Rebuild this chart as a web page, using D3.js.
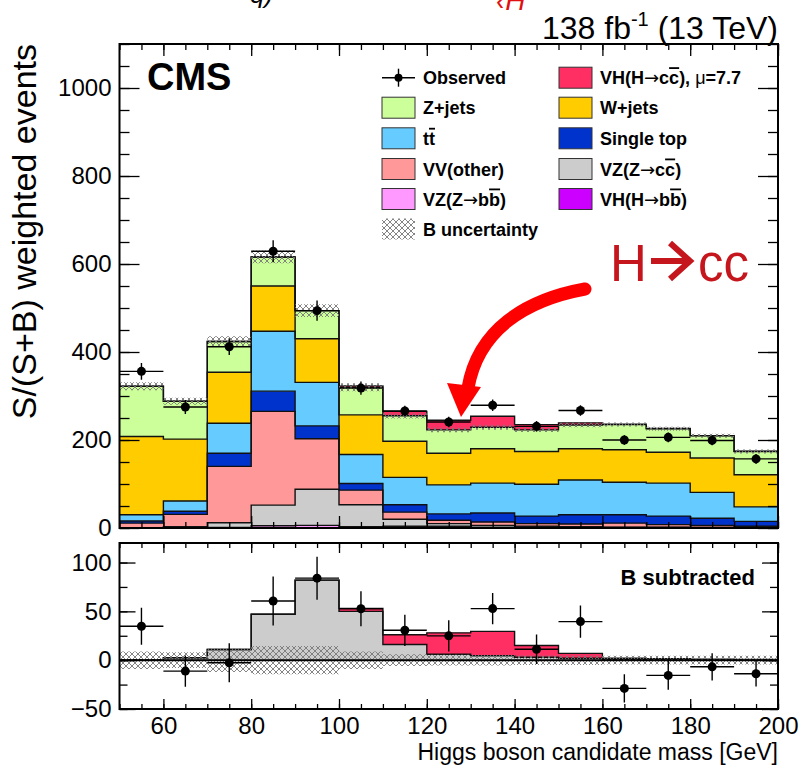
<!DOCTYPE html>
<html>
<head>
<meta charset="utf-8">
<script src="https://cdn.jsdelivr.net/npm/d3@7"></script>
<style>
  body { margin: 0; background: #fff; }
  text { font-family: "Liberation Sans", Arial, Helvetica, sans-serif; }
</style>
</head>
<body>
<div id="chart"></div>
<script>
// Bin low edges (GeV), 10 GeV wide
const binLo = [50, 60, 70, 80, 90, 100, 110, 120, 130, 140, 150, 160, 170, 180, 190];
const binW = 10;

// Main panel, S/(S+B) weighted events per process
const vhBB      = [0, 0, 0, 0.5, 0.5, 0.5, 1, 3, 1, 0.5, 0.5, 0.5, 0.5, 0.5, 0.3];
const vzBB      = [0, 0.5, 1, 4.5, 5.5, 2.5, 3, 1, 0.5, 0.5, 0.5, 0.5, 0.5, 0.5, 0.2];
const vzCC      = [0.5, 2.5, 11, 47, 82, 50, 16, 6, 4.5, 3, 2, 1, 1, 0.5, 0.5];
const vvOther   = [10.5, 28, 128, 213, 115, 33, 16, 7.5, 7.7, 6, 6, 9, 5.6, 4.5, 3];
const singleTop = [5, 7, 30, 46, 29, 15, 17, 14.5, 20.3, 17, 21, 19, 19.4, 16, 11];
const ttbar     = [14, 23.5, 68, 136, 99, 66, 62, 66, 68, 72.5, 79, 74, 75, 59, 33];
const wJets     = [178, 140.5, 116, 103, 99, 90, 82, 72, 78, 74.5, 71, 74, 70, 78, 73];
const zJets     = [114, 86, 70, 66, 64, 63, 58, 53, 49, 49, 54, 57, 53.5, 50.5, 53];
const vhCC      = [0, 0, 0, 0, 0, 3, 10, 22, 25, 12, 5, 1, 0.5, 0.5, 0.3];
const bUnc      = [9, 8, 12, 14.5, 14.5, 9, 6, 5.5, 5.5, 5, 5, 4.5, 4.5, 4.5, 4.5];

const obs    = [356, 275, 412, 629, 494, 318, 266, 241, 279, 231, 267, 200, 206, 199, 157];
const obsErr = [19, 16, 19, 25, 23, 15, 12, 12, 13, 12, 12, 11, 11, 11, 11];

// Lower panel, background subtracted
const subObs    = [34.7, -11.2, -2.7, 60.6, 84, 52.7, 30.6, 24.9, 52.8, 11.2, 39.5, -28.9, -15.6, -6.8, -13.9];
const subObsErr = [19, 16, 20, 25, 22, 18, 16, 16, 16, 15, 16.5, 14.5, 14.7, 14, 13];

// Axis ticks
const mainYTicks  = [0, 200, 400, 600, 800, 1000];
const lowerYTicks = [-50, 0, 50, 100];
const xTicks      = [60, 80, 100, 120, 140, 160, 180, 200];

const processes = [
  {key: "vhBB",      vals: vhBB,      color: "#cc00ff"},
  {key: "vzBB",      vals: vzBB,      color: "#ff99ff"},
  {key: "vzCC",      vals: vzCC,      color: "#cccccc"},
  {key: "vvOther",   vals: vvOther,   color: "#ff9999"},
  {key: "singleTop", vals: singleTop, color: "#0033cc"},
  {key: "ttbar",     vals: ttbar,     color: "#66ccff"},
  {key: "wJets",     vals: wJets,     color: "#ffcc00"},
  {key: "zJets",     vals: zJets,     color: "#ccff99"},
  {key: "vhCC",      vals: vhCC,      color: "#ff2e63"}
];

const W = 802, H = 771;
const svg = d3.select("#chart").append("svg")
  .attr("width", W).attr("height", H);

const defs = svg.append("defs");
const pat = defs.append("pattern")
  .attr("id", "hatch")
  .attr("patternUnits", "userSpaceOnUse")
  .attr("width", 6).attr("height", 6);
pat.append("path").attr("d", "M0,0L6,6M6,0L0,6M-1,5L1,7M5,-1L7,1")
  .attr("stroke", "#777").attr("stroke-width", 0.9);

const x = d3.scaleLinear().domain([50, 200]).range([119.5, 778]);
const yMain = d3.scaleLinear().domain([0, 1100]).range([528, 44]);
const yLow = d3.scaleLinear().domain([-50, 120]).range([709, 543]);

// step points helper: one point per bin edge
function steps(lo, hi) {
  const pts = binLo.map((b, i) => ({x: b, y0: lo[i], y1: hi[i]}));
  const n = binLo.length - 1;
  pts.push({x: binLo[n] + binW, y0: lo[n], y1: hi[n]});
  return pts;
}

// ---------- main panel ----------
const main = svg.append("g");
main.append("clipPath").attr("id", "clipMain")
  .append("rect").attr("x", 119.5).attr("y", 44).attr("width", 658.5).attr("height", 484);
const mg = main.append("g").attr("clip-path", "url(#clipMain)");

const rows = binLo.map((b, i) => {
  const r = {};
  processes.forEach(p => r[p.key] = p.vals[i]);
  return r;
});
const stack = d3.stack().keys(processes.map(p => p.key))(rows);

const area = y => d3.area().curve(d3.curveStepAfter)
  .x(d => x(d.x)).y0(d => y(d.y0)).y1(d => y(d.y1));
const line = y => d3.line().curve(d3.curveStepAfter)
  .x(d => x(d.x)).y(d => y(d.y1));

stack.forEach((layer, k) => {
  const pts = steps(layer.map(d => d[0]), layer.map(d => d[1]));
  mg.append("path").datum(pts)
    .attr("fill", processes[k].color)
    .attr("d", area(yMain));
});
stack.forEach((layer, k) => {
  const pts = steps(layer.map(d => d[0]), layer.map(d => d[1]));
  mg.append("path").datum(pts)
    .attr("fill", "none").attr("stroke", "#111").attr("stroke-width", 1.4)
    .attr("d", line(yMain));
});

// B uncertainty hatch around background total
const bTot = stack[7].map(d => d[1]);
mg.append("path")
  .datum(steps(bTot.map((v, i) => v - bUnc[i]), bTot.map((v, i) => v + bUnc[i])))
  .attr("fill", "url(#hatch)")
  .attr("d", area(yMain));

// observed points
function drawPoints(g, y, vals, errs) {
  const pg = g.append("g");
  vals.forEach((v, i) => {
    const cx = x(binLo[i] + binW / 2);
    pg.append("line").attr("x1", x(binLo[i])).attr("x2", x(binLo[i] + binW))
      .attr("y1", y(v)).attr("y2", y(v)).attr("stroke", "#000").attr("stroke-width", 1.4);
    pg.append("line").attr("x1", cx).attr("x2", cx)
      .attr("y1", y(v - errs[i])).attr("y2", y(v + errs[i])).attr("stroke", "#000").attr("stroke-width", 1.4);
    pg.append("circle").attr("cx", cx).attr("cy", y(v)).attr("r", 4.5).attr("fill", "#000");
  });
}
drawPoints(mg, yMain, obs, obsErr);

// ---------- lower panel ----------
const low = svg.append("g");
low.append("clipPath").attr("id", "clipLow")
  .append("rect").attr("x", 119.5).attr("y", 543).attr("width", 658.5).attr("height", 166);
const lg = low.append("g").attr("clip-path", "url(#clipLow)");

const zeros = binLo.map(() => 0);
const lowLayers = [
  {lo: zeros, hi: vzCC, color: "#cccccc"},
  {lo: vzCC, hi: vzCC.map((v, i) => v + vhCC[i]), color: "#ff2e63"}
];
lowLayers.forEach(l => {
  lg.append("path").datum(steps(l.lo, l.hi)).attr("fill", l.color).attr("d", area(yLow));
});
lowLayers.forEach(l => {
  lg.append("path").datum(steps(l.lo, l.hi))
    .attr("fill", "none").attr("stroke", "#111").attr("stroke-width", 1.4)
    .attr("d", line(yLow));
});
lg.append("path")
  .datum(steps(bUnc.map(v => -v), bUnc))
  .attr("fill", "url(#hatch)")
  .attr("d", area(yLow));
lg.append("line").attr("x1", 119.5).attr("x2", 778)
  .attr("y1", yLow(0)).attr("y2", yLow(0)).attr("stroke", "#000").attr("stroke-width", 2);
drawPoints(lg, yLow, subObs, subObsErr);

// ---------- axes ----------
function styleAxis(g, size) {
  g.select(".domain").remove();
  g.selectAll("line").attr("stroke", "#000").attr("stroke-width", 1.3);
  g.selectAll("text").attr("font-size", size).attr("fill", "#000")
    .attr("font-family", "Liberation Sans, Arial, sans-serif");
}
function minors(step, lo, hi) {
  return d3.range(lo, hi + 0.001, step);
}

// main y
const mYmin = minors(50, 0, 1100);
svg.append("g").attr("transform", "translate(119.5,0)")
  .call(d3.axisLeft(yMain).tickValues(mYmin).tickSize(-10).tickFormat(""))
  .call(g => styleAxis(g, 24));
svg.append("g").attr("transform", "translate(119.5,0)")
  .call(d3.axisLeft(yMain).tickValues(mainYTicks).tickSize(-20).tickPadding(8).tickFormat(d3.format("d")))
  .call(g => styleAxis(g, 24));
svg.append("g").attr("transform", "translate(778,0)")
  .call(d3.axisRight(yMain).tickValues(mYmin).tickSize(-10).tickFormat(""))
  .call(g => styleAxis(g, 24));
svg.append("g").attr("transform", "translate(778,0)")
  .call(d3.axisRight(yMain).tickValues(mainYTicks).tickSize(-20).tickFormat(""))
  .call(g => styleAxis(g, 24));

// main x (no labels)
const xMin = minors(5, 50, 200);
[[528, d3.axisBottom], [44, d3.axisTop]].forEach(([yy, ax]) => {
  svg.append("g").attr("transform", `translate(0,${yy})`)
    .call(ax(x).tickValues(xMin).tickSize(-6).tickFormat(""))
    .call(g => styleAxis(g, 24));
  svg.append("g").attr("transform", `translate(0,${yy})`)
    .call(ax(x).tickValues(xTicks).tickSize(-12).tickFormat(""))
    .call(g => styleAxis(g, 24));
});

// lower y
const lYmin = minors(25, -50, 100);
svg.append("g").attr("transform", "translate(119.5,0)")
  .call(d3.axisLeft(yLow).tickValues(lYmin).tickSize(-8).tickFormat(""))
  .call(g => styleAxis(g, 24));
svg.append("g").attr("transform", "translate(119.5,0)")
  .call(d3.axisLeft(yLow).tickValues(lowerYTicks).tickSize(-16).tickPadding(8)
    .tickFormat(d => d < 0 ? "\u2212" + Math.abs(d) : d))
  .call(g => styleAxis(g, 24));
svg.append("g").attr("transform", "translate(778,0)")
  .call(d3.axisRight(yLow).tickValues(lYmin).tickSize(-8).tickFormat(""))
  .call(g => styleAxis(g, 24));
svg.append("g").attr("transform", "translate(778,0)")
  .call(d3.axisRight(yLow).tickValues(lowerYTicks).tickSize(-16).tickFormat(""))
  .call(g => styleAxis(g, 24));

// lower x
svg.append("g").attr("transform", "translate(0,709)")
  .call(d3.axisBottom(x).tickValues(xMin).tickSize(-5).tickFormat(""))
  .call(g => styleAxis(g, 24));
svg.append("g").attr("transform", "translate(0,709)")
  .call(d3.axisBottom(x).tickValues(xTicks).tickSize(-10).tickPadding(8).tickFormat(d3.format("d")))
  .call(g => styleAxis(g, 24));
svg.append("g").attr("transform", "translate(0,543)")
  .call(d3.axisTop(x).tickValues(xMin).tickSize(-5).tickFormat(""))
  .call(g => styleAxis(g, 24));
svg.append("g").attr("transform", "translate(0,543)")
  .call(d3.axisTop(x).tickValues(xTicks).tickSize(-10).tickFormat(""))
  .call(g => styleAxis(g, 24));

// frames
svg.append("rect").attr("x", 119.5).attr("y", 44).attr("width", 658.5).attr("height", 484)
  .attr("fill", "none").attr("stroke", "#000").attr("stroke-width", 2);
svg.append("rect").attr("x", 119.5).attr("y", 543).attr("width", 658.5).attr("height", 166)
  .attr("fill", "none").attr("stroke", "#000").attr("stroke-width", 2);

// ---------- texts ----------
svg.append("text").attr("x", 147).attr("y", 90)
  .attr("font-size", 38).attr("font-weight", "bold").text("CMS");

const lumi = svg.append("text").attr("x", 778).attr("y", 39)
  .attr("text-anchor", "end").attr("font-size", 32);
lumi.append("tspan").text("138 fb");
lumi.append("tspan").attr("font-size", 20).attr("dy", -13).text("-1");
lumi.append("tspan").attr("dy", 13).text(" (13 TeV)");

svg.append("text")
  .attr("transform", "translate(36,44) rotate(-90)")
  .attr("text-anchor", "end").attr("font-size", 34)
  .text("S/(S+B) weighted events");

svg.append("text").attr("x", 778).attr("y", 760)
  .attr("text-anchor", "end").attr("font-size", 23)
  .text("Higgs boson candidate mass [GeV]");

svg.append("text").attr("x", 755).attr("y", 585)
  .attr("text-anchor", "end").attr("font-size", 22).attr("font-weight", "bold")
  .text("B subtracted");

// cut-off fragments at the very top
svg.append("text").attr("x", 250).attr("y", 3)
  .attr("font-family", "DejaVu Serif").attr("font-style", "italic").attr("font-size", 26)
  .text("q)");
svg.append("text").attr("x", 496).attr("y", 10)
  .attr("font-family", "DejaVu Serif").attr("font-style", "italic").attr("font-size", 28)
  .attr("fill", "#e01010").text("\u2039H");

// ---------- legend ----------
const leg = svg.append("g").attr("font-weight", "bold").attr("font-size", 18);
const rowY = [77.7, 107.7, 138.3, 169, 199, 229];
const col1 = 382, col2 = 559, boxW = 33, boxH = 21;

function legBox(cx, cy, color) {
  leg.append("rect").attr("x", cx).attr("y", cy - boxH / 2).attr("width", boxW).attr("height", boxH)
    .attr("fill", color).attr("stroke", "#333").attr("stroke-width", 1);
}
function legText(cx, cy) {
  return leg.append("text").attr("x", cx + boxW + 8).attr("y", cy + 6.5);
}
function arrow(t) {
  t.append("tspan").attr("font-family", "DejaVu Sans").attr("font-weight", "normal").text("\u2192");
}
// Observed
leg.append("line").attr("x1", col1).attr("x2", col1 + boxW).attr("y1", rowY[0]).attr("y2", rowY[0])
  .attr("stroke", "#000").attr("stroke-width", 1.4);
leg.append("line").attr("x1", col1 + boxW / 2).attr("x2", col1 + boxW / 2)
  .attr("y1", rowY[0] - 9).attr("y2", rowY[0] + 9).attr("stroke", "#000").attr("stroke-width", 1.4);
leg.append("circle").attr("cx", col1 + boxW / 2).attr("cy", rowY[0]).attr("r", 4).attr("fill", "#000");
legText(col1, rowY[0]).text("Observed");

legBox(col1, rowY[1], "#ccff99"); legText(col1, rowY[1]).text("Z+jets");
legBox(col1, rowY[2], "#66ccff");
const tt = legText(col1, rowY[2]);
tt.append("tspan").text("t");
tt.append("tspan").style("text-decoration", "overline").text("t");
legBox(col1, rowY[3], "#ff9999"); legText(col1, rowY[3]).text("VV(other)");
legBox(col1, rowY[4], "#ff99ff");
const vzbb = legText(col1, rowY[4]);
vzbb.append("tspan").text("VZ(Z");
arrow(vzbb);
vzbb.append("tspan").text("b");
vzbb.append("tspan").style("text-decoration", "overline").text("b");
vzbb.append("tspan").text(")");
leg.append("rect").attr("x", col1).attr("y", rowY[5] - boxH / 2).attr("width", boxW).attr("height", boxH)
  .attr("fill", "url(#hatch)");
legText(col1, rowY[5]).text("B uncertainty");

legBox(col2, rowY[0], "#ff2e63");
const vhcc = legText(col2, rowY[0]);
vhcc.append("tspan").text("VH(H");
arrow(vhcc);
vhcc.append("tspan").text("c");
vhcc.append("tspan").style("text-decoration", "overline").text("c");
vhcc.append("tspan").text("),  ");
vhcc.append("tspan").attr("font-weight", "normal").text("\u03bc");
vhcc.append("tspan").text("=7.7");
legBox(col2, rowY[1], "#ffcc00"); legText(col2, rowY[1]).text("W+jets");
legBox(col2, rowY[2], "#0033cc"); legText(col2, rowY[2]).text("Single top");
legBox(col2, rowY[3], "#cccccc");
const vzcc = legText(col2, rowY[3]);
vzcc.append("tspan").text("VZ(Z");
arrow(vzcc);
vzcc.append("tspan").text("c");
vzcc.append("tspan").style("text-decoration", "overline").text("c");
vzcc.append("tspan").text(")");
legBox(col2, rowY[4], "#cc00ff");
const vhbb = legText(col2, rowY[4]);
vhbb.append("tspan").text("VH(H");
arrow(vhbb);
vhbb.append("tspan").text("b");
vhbb.append("tspan").style("text-decoration", "overline").text("b");
vhbb.append("tspan").text(")");

// ---------- annotation ----------
const red = "#c4161c";
svg.append("text").attr("x", 610).attr("y", 281).attr("font-size", 51).attr("fill", red).text("H");
svg.append("path").attr("d", "M651,261L689,261M670,243L690,261L670,279")
  .attr("fill", "none").attr("stroke", red).attr("stroke-width", 6);
svg.append("text").attr("x", 698).attr("y", 281).attr("font-size", 51).attr("fill", red).text("cc");

svg.append("path").attr("d", "M585,289C525,300 478,330 468,388")
  .attr("fill", "none").attr("stroke", "#ff0000").attr("stroke-width", 13).attr("stroke-linecap", "round");
svg.append("path").attr("d", "M447,383L481,387L461,417Z").attr("fill", "#ff0000");
</script>
</body>
</html>
